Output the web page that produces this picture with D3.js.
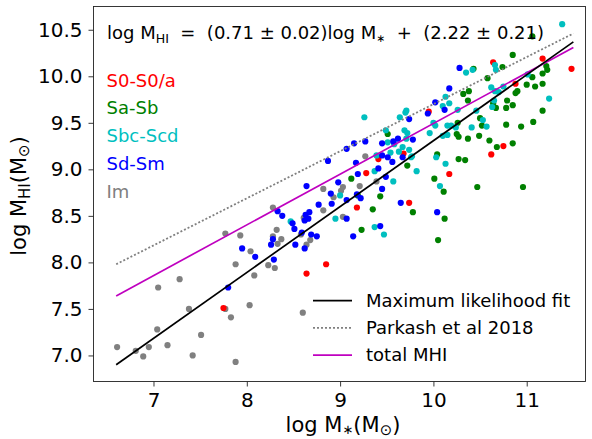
<!DOCTYPE html>
<html>
<head>
<meta charset="utf-8">
<script src="https://cdn.jsdelivr.net/npm/d3@7"></script>
<style>
body { margin: 0; background: #fff; }
text { font-family: "DejaVu Sans", sans-serif; fill: #000; }
</style>
</head>
<body>
<svg width="592" height="439"></svg>
<script>
// points [log M*, log MHI] per morphological type
var imPts = [[6.61,7.09],[6.81,7.05],[6.89,6.99],[6.95,7.09],[7.04,7.28],[7.05,7.73],[7.15,7.11],[7.28,7.82],
    [7.38,7.50],[7.42,7.00],[7.51,7.22],[7.77,8.31],[7.77,7.50],[7.83,7.41],[7.88,7.98],[7.88,6.93],[7.93,8.29],
    [8.03,7.54],[8.04,8.12],[8.08,7.86],[9.27,9.14],[8.82,8.79],[9.03,8.81],[9.01,8.77],[9.21,8.82],[9.39,8.87],
    [8.93,8.70],[8.28,8.59],[8.82,8.56],[8.61,8.48],[9.03,8.49],[8.32,8.35],[8.58,8.30],[8.28,8.28],[8.37,8.25],
    [8.68,8.24],[8.33,8.20],[8.64,8.19],[8.23,7.97],[8.30,7.94],[8.60,7.46]];

var s0Pts = [[7.75,7.51],[8.64,7.88],[8.85,7.98],[9.18,8.59],[9.28,8.96],[9.41,9.11],[9.68,9.17],[9.74,8.64],
    [9.95,9.62],[10.17,8.95],[10.62,9.16],[10.75,9.25],[10.64,10.15],[10.88,9.92],[11.17,10.19],[11.48,10.08]];

var saPts = [[9.12,8.90],[9.19,8.72],[9.43,8.71],[9.35,8.57],[9.23,8.35],[9.72,9.04],[9.78,8.54],[9.51,9.38],
    [10.01,8.90],[10.11,8.76],[10.12,8.47],[10.05,8.24],[10.04,9.16],[10.27,9.11],[10.34,9.10],[10.47,8.81],
    [10.96,8.81],[10.25,9.38],[10.27,9.35],[10.26,9.50],[10.37,9.33],[10.32,9.81],[10.38,9.84],[10.37,9.74],
    [10.43,10.08],[10.50,9.55],[10.52,9.47],[10.49,9.36],[10.60,9.31],[10.68,9.24],[10.85,9.28],[10.58,9.98],
    [10.74,10.10],[10.85,10.23],[11.06,10.43],[11.21,10.11],[11.22,10.07],[11.17,10.03],[11.06,9.99],[11.00,9.91],
    [11.09,9.89],[11.17,9.92],[10.90,9.84],[10.88,9.82],[10.79,9.74],[10.64,9.71],[10.85,9.69],[10.78,9.66],
    [10.67,9.66],[11.17,9.63],[11.07,9.51],[10.94,9.46],[10.78,9.48]];

var sbcPts = [[8.47,8.44],[8.95,8.47],[9.00,8.72],[9.37,8.98],[9.37,8.38],[9.47,8.30],[9.39,9.15],[9.54,9.18],
    [9.63,9.19],[9.57,8.87],[9.82,8.98],[9.74,9.21],[9.77,9.14],[9.67,9.24],[9.26,9.56],[9.49,9.42],[9.51,9.29],
    [9.64,9.56],[9.71,9.63],[9.70,9.61],[9.69,9.42],[9.72,9.39],[9.71,9.33],[9.96,9.39],[10.00,9.50],[10.02,9.47],
    [10.10,9.36],[10.15,9.37],[10.13,9.78],[10.17,9.71],[10.10,9.68],[10.26,9.64],[10.15,9.47],[10.19,9.47],
    [10.24,9.45],[10.41,9.45],[10.46,9.63],[10.53,9.53],[10.57,9.46],[10.35,10.04],[10.42,10.07],[10.03,9.13],
    [10.13,9.06],[10.07,8.82],[9.76,9.13],[10.62,9.88],[10.66,9.84],[10.70,9.83],[10.75,9.89],[10.65,9.74],
    [10.63,9.67],[10.66,10.12],[10.67,10.07],[11.01,10.02],[11.24,9.76],[11.38,10.56],[9.58,9.27]];

var sdPts = [[7.80,7.73],[7.95,8.15],[8.09,8.06],[8.29,8.03],[8.26,8.19],[8.28,8.25],[8.52,8.19],[8.62,8.15],
    [8.51,8.36],[8.59,8.32],[8.69,8.30],[8.75,8.28],[9.14,8.28],[8.33,8.55],[8.38,8.50],[8.49,8.42],[8.63,8.51],
    [8.67,8.54],[8.62,8.45],[8.66,8.47],[9.07,8.47],[8.77,8.62],[8.91,8.63],[9.07,8.67],[8.90,8.74],[9.18,8.73],
    [9.22,8.69],[9.45,8.79],[8.64,8.82],[8.98,8.86],[9.49,8.92],[9.19,8.95],[9.41,9.01],[9.17,9.07],[8.87,9.09],
    [9.07,9.22],[9.15,9.28],[9.27,9.30],[9.45,9.28],[9.57,9.30],[9.45,9.15],[9.51,9.13],[9.56,9.08],[9.67,9.13],
    [9.43,8.39],[9.65,8.64],[10.04,8.54],[9.78,9.32],[9.74,9.54],[9.94,9.60],[10.02,9.72],[10.12,9.64],
    [10.17,9.87],[10.28,10.09],[9.62,9.33]];

// relations, drawn between the two x ends
var lineX = [6.6, 11.5];
var fitY = [6.90, 10.37];        // maximum likelihood fit
var parkashY = [7.98, 10.46];    // Parkash et al 2018
var totalY = [7.64, 10.31];      // total MHI

var xTicks = [7, 8, 9, 10, 11];
var yTicks = [7.0, 7.5, 8.0, 8.5, 9.0, 9.5, 10.0, 10.5];

var typeNames = ["S0-S0/a", "Sa-Sb", "Sbc-Scd", "Sd-Sm", "Im"];
var typeColors = ["#ff0000", "#008000", "#00bfbf", "#0000ff", "#808080"];
var lineNames = ["Maximum likelihood fit", "Parkash et al 2018", "total MHI"];

var marge = { top: 6.5, bottom: 57.5, left: 93.5, right: 6.5 };
var svg = d3.select("svg");
var width = +svg.attr("width");
var height = +svg.attr("height");

var x = d3.scaleLinear().domain([6.357, 11.63]).range([marge.left, width - marge.right]);
var y = d3.scaleLinear().domain([6.72, 10.75]).range([height - marge.bottom, marge.top]);

var fs = 18;      // legend / equation
var tickFs = 20;  // tick labels

// axes
svg.append("g")
    .attr("transform", "translate(0," + (height - marge.bottom) + ")")
    .call(d3.axisBottom(x).tickValues(xTicks).tickSize(5).tickPadding(6).tickFormat(d3.format("d")));
svg.append("g")
    .attr("transform", "translate(" + marge.left + ",0)")
    .call(d3.axisLeft(y).tickValues(yTicks).tickSize(5).tickPadding(6).tickFormat(d3.format(".1f")));
svg.selectAll(".domain").remove();
svg.selectAll(".tick line").attr("stroke", "#222").attr("stroke-width", 0.9);
svg.selectAll(".tick text").attr("font-family", "DejaVu Sans").style("font-size", tickFs + "px").attr("fill", "#000");

// points
var groups = [[imPts, 4], [s0Pts, 0], [saPts, 1], [sbcPts, 2], [sdPts, 3]];
groups.forEach(function (gr) {
    svg.append("g").selectAll("circle")
        .data(gr[0])
        .enter().append("circle")
        .attr("cx", function (d) { return x(d[0]); })
        .attr("cy", function (d) { return y(d[1]); })
        .attr("r", 3.1)
        .attr("fill", typeColors[gr[1]]);
});

// lines
var line = d3.line()
    .x(function (d) { return x(d[0]); })
    .y(function (d) { return y(d[1]); });
function pairs(ys) { return lineX.map(function (v, i) { return [v, ys[i]]; }); }

svg.append("path").datum(pairs(parkashY)).attr("d", line)
    .attr("fill", "none").attr("stroke", "#808080").attr("stroke-width", 1.8).attr("stroke-dasharray", "2,2");
svg.append("path").datum(pairs(totalY)).attr("d", line)
    .attr("fill", "none").attr("stroke", "#bf00bf").attr("stroke-width", 1.7);
svg.append("path").datum(pairs(fitY)).attr("d", line)
    .attr("fill", "none").attr("stroke", "#000").attr("stroke-width", 1.7);

// frame
svg.append("rect")
    .attr("x", marge.left).attr("y", marge.top)
    .attr("width", width - marge.right - marge.left)
    .attr("height", height - marge.bottom - marge.top)
    .attr("fill", "none").attr("stroke", "#222").attr("stroke-width", 0.9);

// equation
var eq = svg.append("text").attr("x", 107).attr("y", 39).style("font-size", fs + "px");
eq.append("tspan").text("log M");
eq.append("tspan").attr("dy", 4).style("font-size", (fs * 0.7) + "px").text("HI");
eq.append("tspan").attr("dy", -4).text("\u00a0\u00a0=\u00a0\u00a0(0.71 \u00b1 0.02)log M");
eq.append("tspan").attr("dy", 3).style("font-size", (fs * 0.6) + "px").text("\u2217");
eq.append("tspan").attr("dy", -3).text("\u00a0\u00a0+\u00a0\u00a0(2.22 \u00b1 0.21)");

// type labels
svg.append("g").selectAll("text")
    .data(typeNames)
    .enter().append("text")
    .attr("x", 106.5)
    .attr("y", function (d, i) { return 86.5 + i * 27.75; })
    .style("fill", function (d, i) { return typeColors[i]; })
    .style("font-size", fs + "px")
    .text(function (d) { return d; });

// line legend
var lg = svg.append("g").attr("transform", "translate(313,300.7)");
var lstyles = [["#000", null], ["#808080", "2,2"], ["#bf00bf", null]];
lineNames.forEach(function (n, i) {
    lg.append("line").attr("x1", 0).attr("x2", 39).attr("y1", i * 27.2).attr("y2", i * 27.2)
        .attr("stroke", lstyles[i][0]).attr("stroke-width", 1.7)
        .attr("stroke-dasharray", lstyles[i][1]);
    lg.append("text").attr("x", 53).attr("y", i * 27.2 + 6.3).style("font-size", fs + "px").text(n);
});

// axis labels
var xl = svg.append("text").attr("x", 343).attr("y", 431.5).attr("text-anchor", "middle").style("font-size", "21px");
xl.append("tspan").text("log M");
xl.append("tspan").style("font-size", "13px").attr("dy", 2).text("\u2217");
xl.append("tspan").attr("dy", -2).text("(M");
xl.append("tspan").style("font-size", "15px").attr("dy", 3).text("\u2299");
xl.append("tspan").attr("dy", -3).text(")");

var yl = svg.append("text").attr("transform", "translate(26,196) rotate(-90)").attr("text-anchor", "middle").style("font-size", "21px");
yl.append("tspan").text("log M");
yl.append("tspan").style("font-size", "15px").attr("dy", 4).text("HI");
yl.append("tspan").attr("dy", -4).text("(M");
yl.append("tspan").style("font-size", "15px").attr("dy", 3).text("\u2299");
yl.append("tspan").attr("dy", -3).text(")");
</script>
</body>
</html>
